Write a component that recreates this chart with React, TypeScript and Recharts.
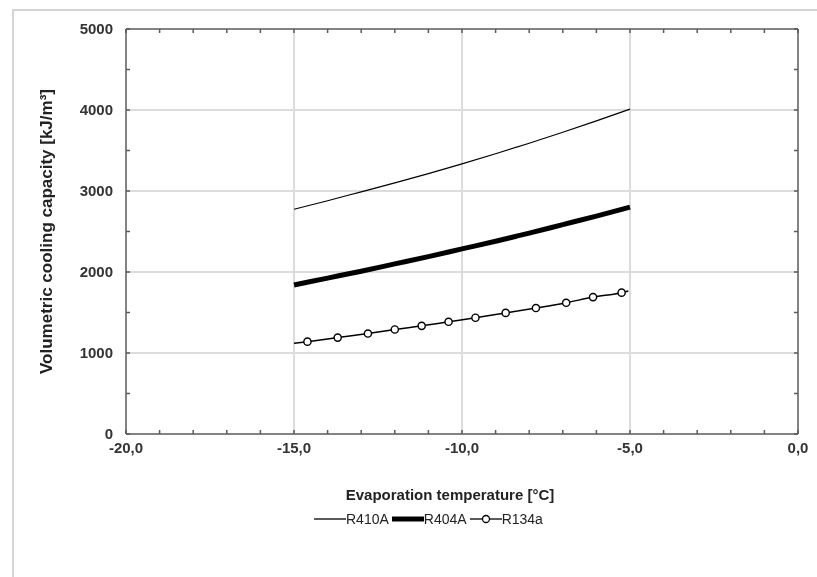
import React from 'react';
import { LineChart, Line, XAxis, YAxis, CartesianGrid, Label } from 'recharts';

// evaporation temperature [°C]
const tempsMain = [-15, -14, -13, -12, -11, -10, -9, -8, -7, -6, -5];
const r410a = [2775, 2880, 2990, 3100, 3215, 3335, 3460, 3590, 3725, 3865, 4010];
const r404a = [1840, 1925, 2010, 2100, 2190, 2285, 2380, 2480, 2585, 2690, 2800];

// R134a: curve start/end plus marker points
const tempsR134a = [-15, -14.6, -13.7, -12.8, -12.0, -11.2, -10.4, -9.6, -8.7, -7.8, -6.9, -6.1, -5.25, -5.05];
const r134a = [1120, 1140, 1190, 1240, 1290, 1335, 1385, 1435, 1495, 1555, 1620, 1690, 1745, 1765];

const xTicks = [-20, -19, -18, -17, -16, -15, -14, -13, -12, -11, -10, -9, -8, -7, -6, -5, -4, -3, -2, -1, 0];
const yTicks = [0, 500, 1000, 1500, 2000, 2500, 3000, 3500, 4000, 4500, 5000];
const xGrid = [-15, -10, -5];
const yGrid = [1000, 2000, 3000, 4000];

const seriesNames = ['R410A', 'R404A', 'R134a'];

const toRows = (xs: number[], ys: number[]) => xs.map((t, i) => ({ t, v: ys[i] }));

const FONT = '"Liberation Sans", Arial, sans-serif';
const AXIS = '#5a5a5a';
const TEXT = '#333';

const BottomTick = (props: any) => {
  const { x, y, payload } = props;
  const v = payload.value as number;
  return (
    <g>
      <line x1={x} y1={y} x2={x} y2={y - 4} stroke={AXIS} strokeWidth={1.5} />
      {v % 5 === 0 && (
        <text x={x} y={y + 19} textAnchor="middle" fontSize={15} fontWeight="bold" fill={TEXT} fontFamily={FONT}>
          {v.toFixed(1).replace('.', ',')}
        </text>
      )}
    </g>
  );
};

// top axis: top edge of the frame, tick marks only
const TopTick = (props: any) => {
  const { x, y } = props;
  return <line x1={x} y1={y} x2={x} y2={y + 4} stroke={AXIS} strokeWidth={1.5} />;
};

const LeftTick = (props: any) => {
  const { x, y, payload } = props;
  const v = payload.value as number;
  return (
    <g>
      <line x1={x} y1={y} x2={x + 4} y2={y} stroke={AXIS} strokeWidth={1.5} />
      {v % 1000 === 0 && (
        <text x={x - 13} y={y + 5} textAnchor="end" fontSize={15} fontWeight="bold" fill={TEXT} fontFamily={FONT}>
          {v}
        </text>
      )}
    </g>
  );
};

const RightTick = (props: any) => {
  const { x, y } = props;
  return <line x1={x} y1={y} x2={x - 4} y2={y} stroke={AXIS} strokeWidth={1.5} />;
};

const R134aDot = (props: any) => {
  const { cx, cy, index } = props;
  if (index === 0 || index === tempsR134a.length - 1) return <g key={index} />;
  return <circle key={index} cx={cx} cy={cy} r={3.6} fill="#fff" stroke="#000" strokeWidth={1.4} />;
};

const LegendItem = ({ kind, label }: { kind: number; label: string }) => (
  <span style={{ display: 'inline-flex', alignItems: 'center', marginRight: 3 }}>
    <svg width={32} height={12}>
      <line x1={0} y1={6} x2={32} y2={6} stroke="#000" strokeWidth={kind === 1 ? 5 : 1.3} />
      {kind === 2 && <circle cx={16} cy={6} r={3.5} fill="#fff" stroke="#000" strokeWidth={1.3} />}
    </svg>
    <span>{label}</span>
  </span>
);

export default function App() {
  return (
    <div style={{ position: 'relative', width: 801, height: 561, background: '#fff' }}>
      {/* light outer frame: left and top edges only */}
      <div
        style={{
          position: 'fixed',
          left: 12,
          top: 9,
          width: 900,
          height: 700,
          borderLeft: '2px solid #d4d4d4',
          borderTop: '2px solid #d4d4d4',
        }}
      />
      <LineChart width={800} height={560} margin={{ top: 20, right: 9, left: 0, bottom: 68 }} style={{ position: 'absolute', left: 0, top: 0 }}>
        <CartesianGrid
          xAxisId="b"
          yAxisId="l"
          stroke="#dcdcdc"
          strokeWidth={2}
          verticalValues={xGrid}
          horizontalValues={yGrid}
        />
        <XAxis
          xAxisId="b"
          dataKey="t"
          type="number"
          domain={[-20, 0]}
          ticks={xTicks}
          interval={0}
          tickSize={0}
          tickMargin={0}
          tickLine={false}
          tick={<BottomTick />}
          stroke={AXIS}
          strokeWidth={1.5}
          height={66}
          allowDataOverflow
        >
          <Label
            value="Evaporation temperature [°C]"
            position="insideBottom"
            offset={0}
            dx={-12}
            style={{ fontSize: 15, fontWeight: 'bold', fill: '#222', fontFamily: FONT }}
          />
        </XAxis>
        <XAxis
          xAxisId="top"
          dataKey="t"
          type="number"
          orientation="top"
          domain={[-20, 0]}
          ticks={xTicks}
          interval={0}
          tickSize={0}
          tickMargin={0}
          tickLine={false}
          tick={<TopTick />}
          stroke={AXIS}
          strokeWidth={1.5}
          height={1}
          allowDataOverflow
        />
        <YAxis
          yAxisId="l"
          type="number"
          domain={[0, 5000]}
          ticks={yTicks}
          interval={0}
          tickSize={0}
          tickMargin={0}
          tickLine={false}
          tick={<LeftTick />}
          stroke={AXIS}
          strokeWidth={1.5}
          width={118}
          allowDataOverflow
        >
          <Label
            value="Volumetric cooling capacity [kJ/m³]"
            angle={-90}
            position="insideLeft"
            offset={38}
            style={{ fontSize: 17, fontWeight: 'bold', fill: '#222', fontFamily: FONT, textAnchor: 'middle' }}
          />
        </YAxis>
        <YAxis
          yAxisId="r"
          type="number"
          orientation="right"
          domain={[0, 5000]}
          ticks={yTicks}
          interval={0}
          tickSize={0}
          tickMargin={0}
          tickLine={false}
          tick={<RightTick />}
          stroke={AXIS}
          strokeWidth={1.5}
          width={1}
          allowDataOverflow
        />
        <Line
          xAxisId="b"
          yAxisId="l"
          data={toRows(tempsMain, r410a)}
          dataKey="v"
          name={seriesNames[0]}
          type="monotone"
          stroke="#000"
          strokeWidth={1.2}
          dot={false}
          isAnimationActive={false}
        />
        <Line
          xAxisId="b"
          yAxisId="l"
          data={toRows(tempsMain, r404a)}
          dataKey="v"
          name={seriesNames[1]}
          type="monotone"
          stroke="#000"
          strokeWidth={5}
          dot={false}
          isAnimationActive={false}
        />
        <Line
          xAxisId="b"
          yAxisId="l"
          data={toRows(tempsR134a, r134a)}
          dataKey="v"
          name={seriesNames[2]}
          type="monotone"
          stroke="#000"
          strokeWidth={1.5}
          dot={<R134aDot />}
          isAnimationActive={false}
        />
      </LineChart>
      <div
        style={{
          position: 'absolute',
          left: 306,
          top: 503,
          display: 'flex',
          alignItems: 'center',
          fontFamily: FONT,
          fontSize: 14,
          color: '#222',
        }}
      >
        {seriesNames.map((name, i) => (
          <LegendItem key={name} kind={i} label={name} />
        ))}
      </div>
    </div>
  );
}
